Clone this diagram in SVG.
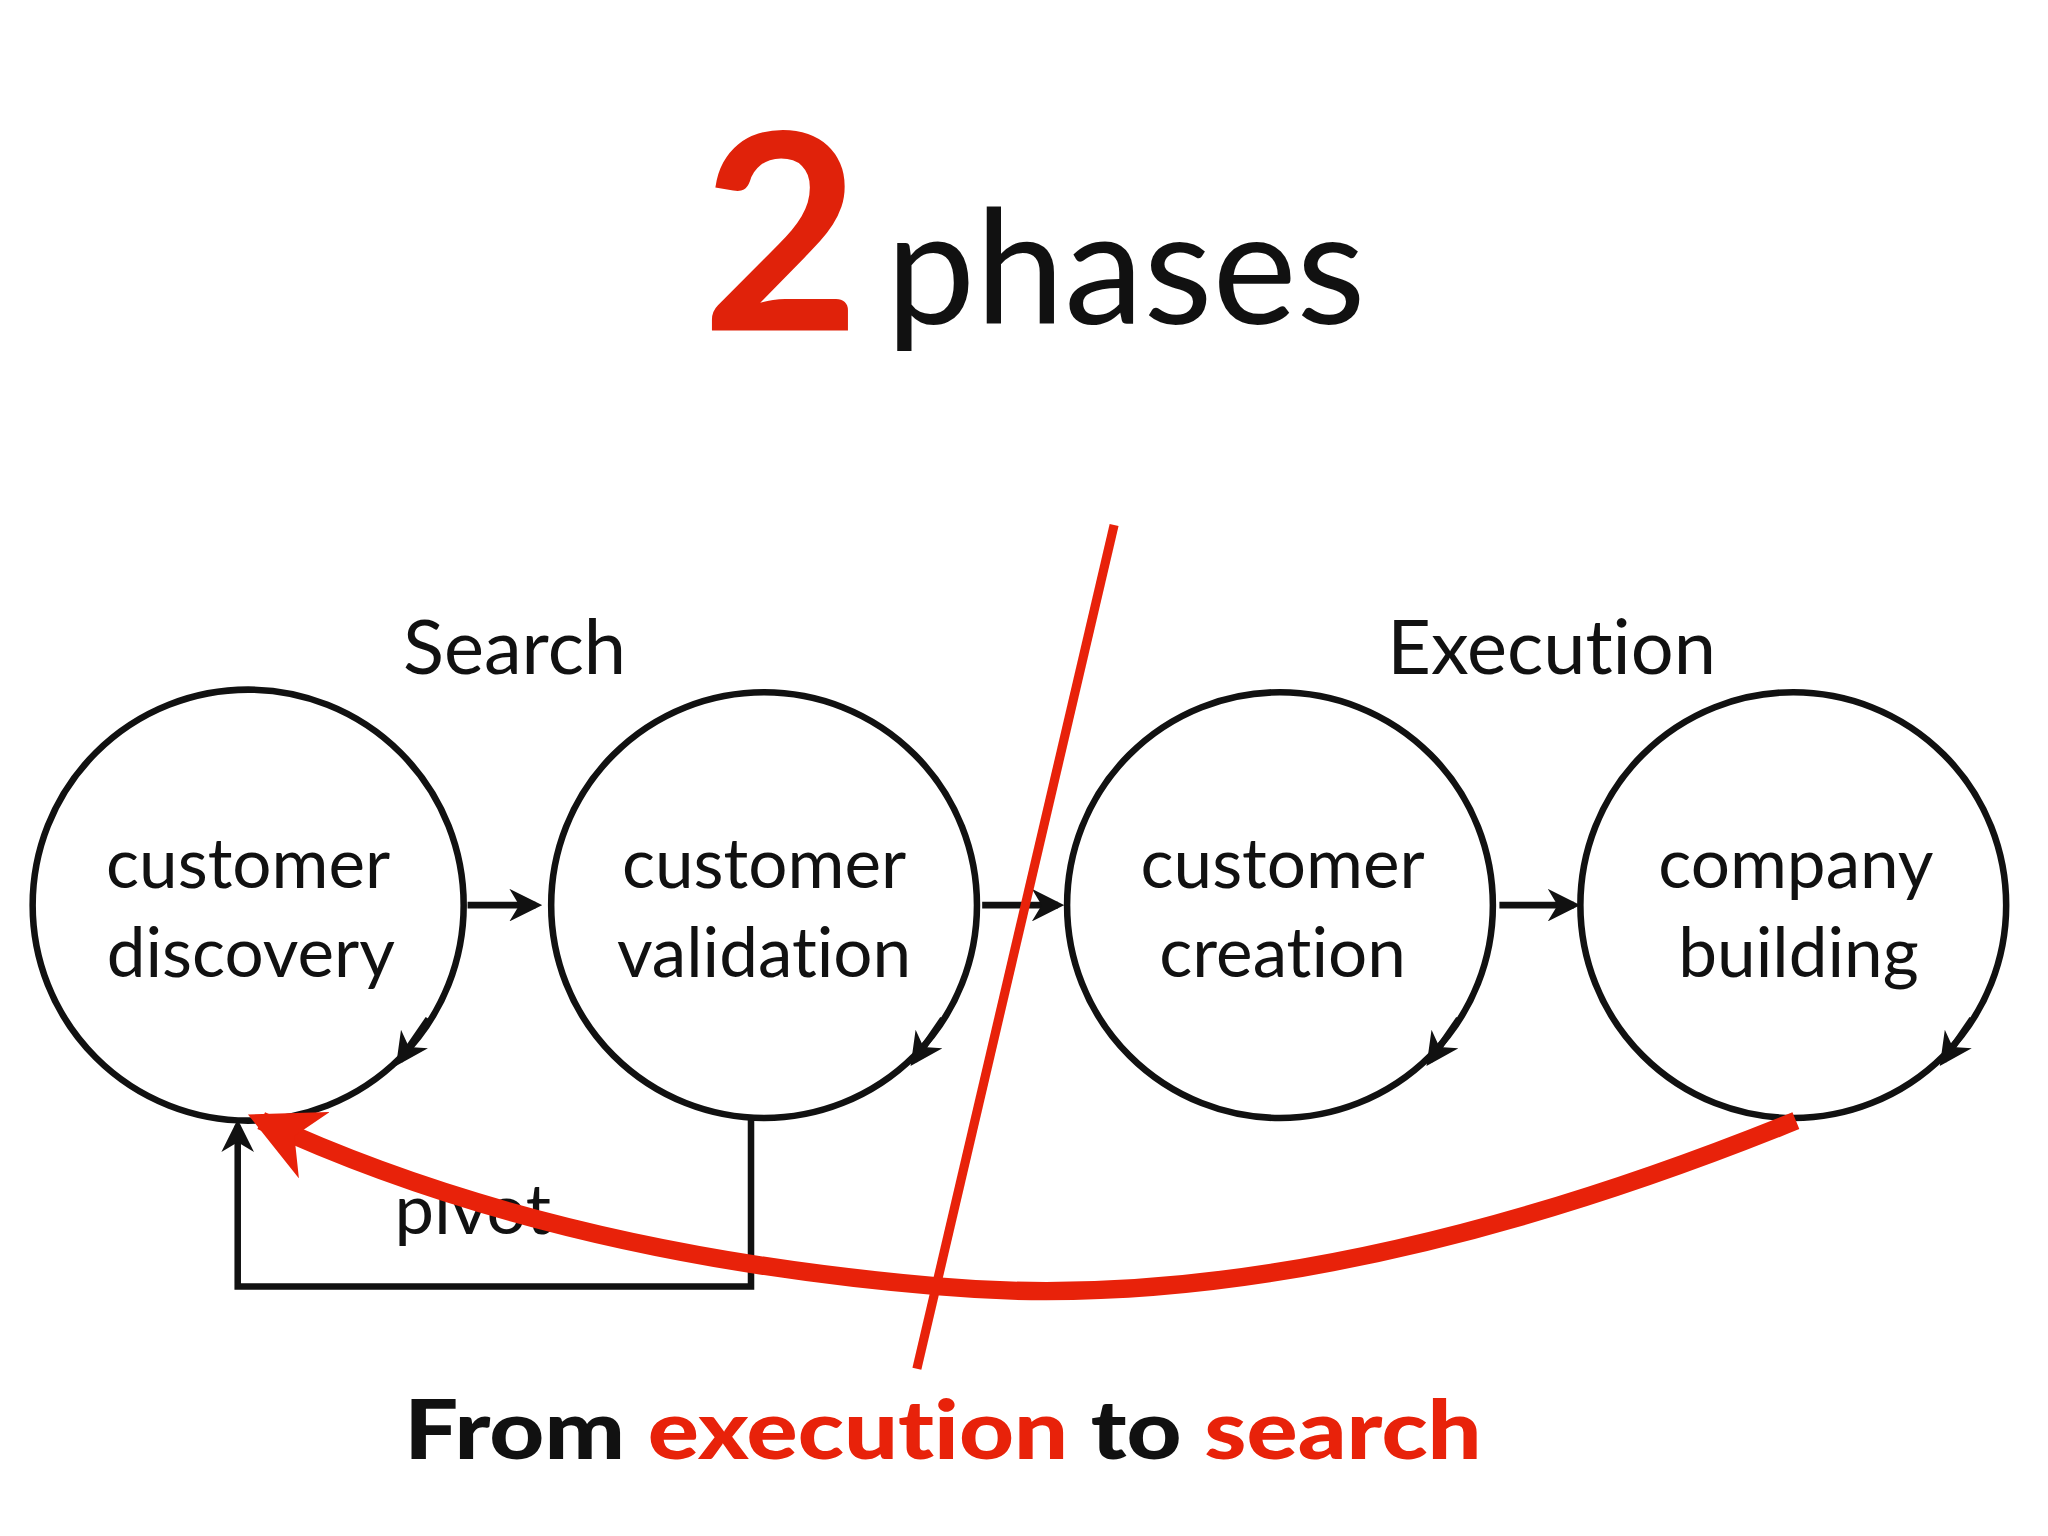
<svg xmlns="http://www.w3.org/2000/svg" width="2048" height="1536" viewBox="0 0 2048 1536">
<defs>
<style>
.c{fill:none;stroke:#111;stroke-width:5}
.l{fill:none;stroke:#111;stroke-width:5}
.t{font-family:"Lato","Liberation Sans",sans-serif;fill:#111;text-anchor:middle;font-variant-ligatures:none}
.n{font-size:53px}
</style>
<marker id="ah" viewBox="0 0 10 10" refX="8" refY="5" markerWidth="5" markerHeight="5" orient="auto"><path d="M0,0 L10,5 L0,10 L3,5 Z" fill="#111"/></marker>
<marker id="rh" viewBox="0 0 10 10" refX="8" refY="5" markerWidth="4" markerHeight="4" orient="auto"><path d="M0,0 L10,5 L0,10 L3,5 Z" fill="#e8220a"/></marker>
</defs>
<rect width="2048" height="1536" fill="#fff"/>
<g transform="scale(1.3061)">
<g id="title">
<text x="598" y="253" class="t" style="font-size:210px;font-weight:bold;fill:#e0220a">2</text>
<text x="862" y="248" class="t" style="font-size:122px">phases</text>
</g>
<text x="394" y="516" class="t" style="font-size:58px">Search</text>
<text x="1188" y="516" class="t" style="font-size:58px">Execution</text>
<g id="n1"><circle cx="190" cy="693" r="165" class="c"/><text x="190" y="680" class="t n">customer</text><text x="192" y="748" class="t n">discovery</text><path d="M328,780 L306,812" class="l" marker-end="url(#ah)"/></g>
<g id="n2"><circle cx="585" cy="693" r="163" class="c"/><text x="585" y="680" class="t n">customer</text><text x="585" y="748" class="t n">validation</text><path d="M722,780 L700,812" class="l" marker-end="url(#ah)"/></g>
<g id="n3"><circle cx="980" cy="693" r="163" class="c"/><text x="982" y="680" class="t n">customer</text><text x="982" y="748" class="t n">creation</text><path d="M1117,780 L1095,812" class="l" marker-end="url(#ah)"/></g>
<g id="n4"><circle cx="1373" cy="693" r="163" class="c"/><text x="1375" y="680" class="t n">company</text><text x="1377" y="748" class="t n">building</text><path d="M1510,780 L1488,812" class="l" marker-end="url(#ah)"/></g>
<g id="connectors">
<path d="M358,693 L410,693" class="l" marker-end="url(#ah)"/>
<path d="M752,693 L810,693" class="l" marker-end="url(#ah)"/>
<path d="M1148,693 L1205,693" class="l" marker-end="url(#ah)"/>
<path d="M575,856 L575,985 L182,985 L182,862" class="l" marker-end="url(#ah)"/>
<text x="362" y="945" class="t" style="font-size:54px">pivot</text>
<path d="M853,402 L702,1048" fill="none" stroke="#e8220a" stroke-width="7"/>
<path d="M1375,858 Q1000,1010 720,985 Q420,960 200,858" fill="none" stroke="#e8220a" stroke-width="14" marker-end="url(#rh)"/>
</g>
<text x="722" y="1117" class="t" style="font-size:62px;font-weight:900" textLength="825" lengthAdjust="spacingAndGlyphs">From <tspan fill="#e8220a">execution</tspan> to <tspan fill="#e8220a">search</tspan></text>
</g>
</svg>
